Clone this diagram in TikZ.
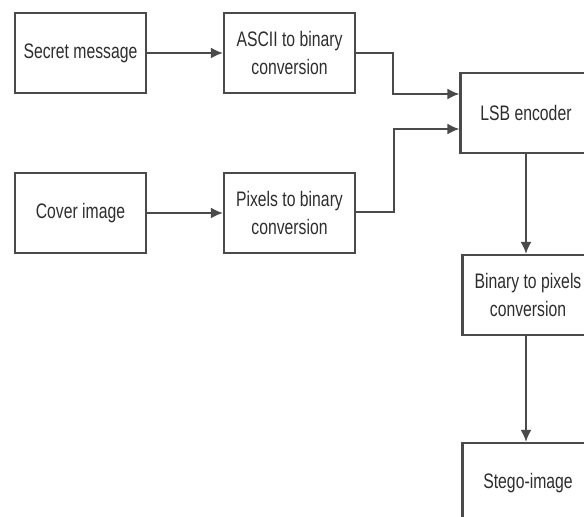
\documentclass[tikz,border=0pt]{standalone}
\usepackage{fontspec}
\setmainfont{Liberation Sans}[FakeStretch=0.75]
\usepackage{tikz}
\usetikzlibrary{arrows.meta}
\usepackage{xcolor}
\definecolor{edge}{HTML}{4A4A4A}
\definecolor{ink}{HTML}{2E2E2E}

\tikzset{
  blk/.style={draw=edge, line width=2.2pt, fill=white, minimum width=131pt,
    minimum height=80pt, inner sep=0pt, align=center, text=ink,
    font=\fontsize{21}{28}\selectfont},
  arr/.style={draw=edge, line width=2pt, -{Latex[length=12pt,width=11pt]}}
}

\begin{document}
\begin{tikzpicture}[x=1pt,y=-1pt]
\useasboundingbox (0,0) rectangle (584,517);
\clip (0,0) rectangle (584,517);
\node[blk] (secret) at (80.5,53) {Secret message};
\node[blk] (ascii) at (289.5,53) {ASCII to binary\\conversion};
\node[blk] (cover) at (80.5,213) {Cover image};
\node[blk] (pixels) at (289.5,213) {Pixels to binary\\conversion};
\node[blk] (lsb) at (526,113) {LSB encoder};
\node[blk] (topix) at (528,295) {Binary to pixels\\conversion};
\node[blk] (stego) at (528,483) {Stego-image};
% arrows
\draw[arr] (secret) -- (ascii);
\draw[arr] (cover) -- (pixels);
\draw[arr] (ascii.east) -- ++(37,0) |- ([yshift=19pt]lsb.west);
\draw[arr] ([yshift=1pt]pixels.east) -- ++(38,0) |- ([yshift=-16pt]lsb.west);
\draw[arr] (lsb.south) -- (lsb.south |- topix.north);
\draw[arr] (topix.south -| lsb.south) -- (lsb.south |- stego.north);
\end{tikzpicture}
\end{document}
